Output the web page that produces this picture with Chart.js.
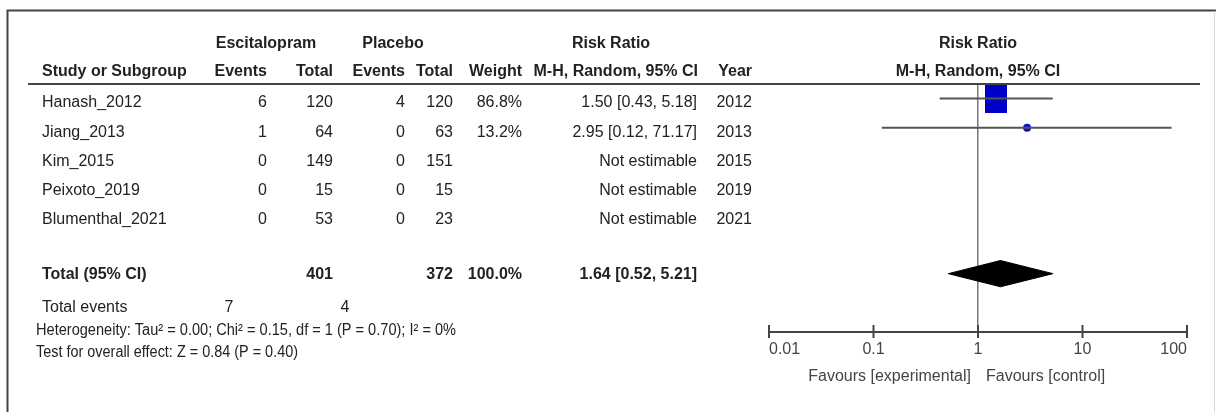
<!DOCTYPE html>
<html>
<head>
<meta charset="utf-8">
<script src="https://cdn.jsdelivr.net/npm/chart.js@4.4.1/dist/chart.umd.min.js"></script>
<style>
  html, body { margin: 0; padding: 0; background: #fff; }
  canvas { display: block; }
</style>
</head>
<body>
<canvas id="forest" width="1216" height="412"></canvas>
<script>
"use strict"

// study rows
let studies = ["Hanash_2012", "Jiang_2013", "Kim_2015", "Peixoto_2019", "Blumenthal_2021"];
let years = [2012, 2013, 2015, 2019, 2021];
let escEvents = [6, 1, 0, 0, 0];
let escTotal = [120, 64, 149, 15, 53];
let placeboEvents = [4, 0, 0, 0, 0];
let placeboTotal = [120, 63, 151, 15, 23];
let weights = [86.8, 13.2, null, null, null];
let riskRatio = [1.50, 2.95, null, null, null];
let ciLow = [0.43, 0.12, null, null, null];
let ciHigh = [5.18, 71.17, null, null, null];

// pooled result: estimate, low, high
let pooled = [1.64, 0.52, 5.21];
let groupTotals = [401, 372];
let totalEvents = [7, 4];
let totalWeight = 100.0;

// heterogeneity + overall effect
let tau2 = 0.00, chi2 = 0.15, df = 1, pHet = 0.70, i2 = 0;
let zValue = 0.84, pOverall = 0.40;

// x axis
let tickValues = [0.01, 0.1, 1, 10, 100];
let tickLabels = ["0.01", "0.1", "1", "10", "100"];

const FONT = "'Liberation Sans', Arial, sans-serif";
const TEXT = "#222";
const totalRow = studies.length + 1;

// column x positions of the table (right edges unless noted)
const col = { study: 42, escEvents: 267, escTotal: 333, plaEvents: 405, plaTotal: 453,
  weight: 522, rr: 697, year: 752, escHead: 266, plaHead: 393, rrHead: 611, evEsc: 229, evPla: 345 };

function fmtCI(est, lo, hi) {
  return est.toFixed(2) + " [" + lo.toFixed(2) + ", " + hi.toFixed(2) + "]";
}

// blue box for the heavy study
function boxFor(weight) {
  let c = document.createElement("canvas");
  c.width = Math.round(2.36 * Math.sqrt(weight));
  c.height = Math.round(3.12 * Math.sqrt(weight));
  let g = c.getContext("2d");
  g.fillStyle = "#0000c8";
  g.fillRect(0, 0, c.width, c.height);
  return c;
}

let datasets = [];

// confidence interval lines
for (let i = 0; i < studies.length; i++) {
  if (riskRatio[i] === null) continue;
  datasets.push({
    data: [{ x: ciLow[i], y: i }, { x: ciHigh[i], y: i }],
    showLine: true, borderColor: "#555", borderWidth: 2, pointRadius: 0
  });
}

// point estimates
let estPoints = [];
let estStyles = [];
for (let i = 0; i < studies.length; i++) {
  if (riskRatio[i] === null) continue;
  estPoints.push({ x: riskRatio[i], y: i });
  estStyles.push(weights[i] > 50 ? boxFor(weights[i]) : "circle");
}
datasets.push({
  data: estPoints,
  pointStyle: estStyles,
  pointRadius: 4,
  pointBackgroundColor: "#1010c8",
  pointBorderWidth: 0,
  showLine: false
});

// pooled diamond
const dh = 0.45;
datasets.push({
  data: [
    { x: pooled[1], y: totalRow },
    { x: pooled[0], y: totalRow - dh },
    { x: pooled[2], y: totalRow },
    { x: pooled[0], y: totalRow + dh },
    { x: pooled[1], y: totalRow }
  ],
  showLine: true, fill: "shape", backgroundColor: "#000", borderColor: "#000",
  borderWidth: 1, pointRadius: 0, tension: 0
});

function put(ctx, text, x, y, align, bold, color, maxW) {
  ctx.font = (bold ? "bold " : "") + "16px " + FONT;
  ctx.fillStyle = color || TEXT;
  ctx.textAlign = align;
  ctx.textBaseline = "middle";
  if (maxW) ctx.fillText(text, x, y, maxW);
  else ctx.fillText(text, x, y);
}

const tablePlugin = {
  id: "table",
  afterDraw(chart) {
    let ctx = chart.ctx;
    let xs = chart.scales.x;
    let ys = chart.scales.y;
    let area = chart.chartArea;
    let rowY = r => ys.getPixelForValue(r);
    let x1 = xs.getPixelForValue(1);

    ctx.save();
    // frame
    ctx.strokeStyle = "#444";
    ctx.lineWidth = 2;
    ctx.beginPath();
    ctx.moveTo(7.5, 412);
    ctx.lineTo(7.5, 10.5);
    ctx.lineTo(1216, 10.5);
    ctx.stroke();
    ctx.strokeStyle = "#d8d8d8";
    ctx.lineWidth = 1;
    ctx.beginPath();
    ctx.moveTo(1214.5, 11);
    ctx.lineTo(1214.5, 412);
    ctx.stroke();

    // header rule
    ctx.strokeStyle = "#444";
    ctx.lineWidth = 2;
    ctx.beginPath();
    ctx.moveTo(28, area.top);
    ctx.lineTo(1200, area.top);
    ctx.stroke();

    // tick marks across the axis
    ctx.strokeStyle = "#444";
    ctx.lineWidth = 2;
    xs.ticks.forEach(t => {
      let px = xs.getPixelForValue(t.value);
      ctx.beginPath();
      ctx.moveTo(px, area.bottom - 7);
      ctx.lineTo(px, area.bottom + 6);
      ctx.stroke();
    });

    // headers
    let h1 = rowY(-1.88), h2 = rowY(-0.93);
    put(ctx, "Escitalopram", col.escHead, h1, "center", true);
    put(ctx, "Placebo", col.plaHead, h1, "center", true);
    put(ctx, "Risk Ratio", col.rrHead, h1, "center", true);
    put(ctx, "Risk Ratio", x1, h1, "center", true);
    put(ctx, "Study or Subgroup", col.study, h2, "left", true);
    put(ctx, "Events", col.escEvents, h2, "right", true);
    put(ctx, "Total", col.escTotal, h2, "right", true);
    put(ctx, "Events", col.plaEvents, h2, "right", true);
    put(ctx, "Total", col.plaTotal, h2, "right", true);
    put(ctx, "Weight", col.weight, h2, "right", true);
    put(ctx, "M-H, Random, 95% CI", col.rr + 1, h2, "right", true);
    put(ctx, "Year", col.year, h2, "right", true);
    put(ctx, "M-H, Random, 95% CI", x1, h2, "center", true);

    // study rows
    for (let i = 0; i < studies.length; i++) {
      let y = rowY(i + 0.15);
      put(ctx, studies[i], col.study, y, "left");
      put(ctx, String(escEvents[i]), col.escEvents, y, "right");
      put(ctx, String(escTotal[i]), col.escTotal, y, "right");
      put(ctx, String(placeboEvents[i]), col.plaEvents, y, "right");
      put(ctx, String(placeboTotal[i]), col.plaTotal, y, "right");
      if (weights[i] !== null) put(ctx, weights[i].toFixed(1) + "%", col.weight, y, "right");
      let rrText = riskRatio[i] !== null ? fmtCI(riskRatio[i], ciLow[i], ciHigh[i]) : "Not estimable";
      put(ctx, rrText, col.rr, y, "right");
      put(ctx, String(years[i]), col.year, y, "right");
    }

    // total row
    let ty = rowY(totalRow + 0.03);
    put(ctx, "Total (95% CI)", col.study, ty, "left", true);
    put(ctx, String(groupTotals[0]), col.escTotal, ty, "right", true);
    put(ctx, String(groupTotals[1]), col.plaTotal, ty, "right", true);
    put(ctx, totalWeight.toFixed(1) + "%", col.weight, ty, "right", true);
    put(ctx, fmtCI(pooled[0], pooled[1], pooled[2]), col.rr, ty, "right", true);

    // footer lines
    let ey = rowY(totalRow + 1.15);
    put(ctx, "Total events", col.study, ey, "left");
    put(ctx, String(totalEvents[0]), col.evEsc, ey, "center");
    put(ctx, String(totalEvents[1]), col.evPla, ey, "center");
    put(ctx, "Heterogeneity: Tau\u00b2 = " + tau2.toFixed(2) + "; Chi\u00b2 = " + chi2.toFixed(2) +
      ", df = " + df + " (P = " + pHet.toFixed(2) + "); I\u00b2 = " + i2 + "%",
      col.study - 6, rowY(totalRow + 1.94), "left", false, TEXT, 420);
    put(ctx, "Test for overall effect: Z = " + zValue.toFixed(2) + " (P = " + pOverall.toFixed(2) + ")",
      col.study - 6, rowY(totalRow + 2.69), "left", false, TEXT, 262);

    // favours labels
    let fy = area.bottom + 45;
    put(ctx, "Favours [experimental]", x1 - 7, fy, "right", false, "#444");
    put(ctx, "Favours [control]", x1 + 8, fy, "left", false, "#444");
    ctx.restore();
  }
};

new Chart(document.getElementById("forest"), {
  type: "scatter",
  data: { datasets: datasets },
  options: {
    responsive: false,
    animation: false,
    devicePixelRatio: 1,
    layout: { padding: { left: 769, right: 29, top: 84, bottom: 44.8 } },
    plugins: { legend: { display: false }, tooltip: { enabled: false } },
    scales: {
      x: {
        type: "logarithmic",
        min: 0.01,
        max: 100,
        position: "bottom",
        afterBuildTicks: scale => { scale.ticks = tickValues.map(v => ({ value: v })); },
        ticks: {
          autoSkip: false,
          maxRotation: 0,
          align: "inner",
          padding: 8,
          color: "#444",
          font: { family: FONT, size: 16 },
          callback: (value, index) => tickLabels[index]
        },
        grid: {
          drawTicks: false,
          tickLength: 0,
          lineWidth: 1.5,
          color: ctx => (ctx.tick && ctx.tick.value === 1) ? "#777" : "rgba(0,0,0,0)"
        },
        border: { display: true, color: "#444", width: 2 }
      },
      y: {
        type: "linear",
        reverse: true,
        min: -0.5,
        max: 8,
        display: false
      }
    }
  },
  plugins: [tablePlugin]
});
</script>
</body>
</html>
